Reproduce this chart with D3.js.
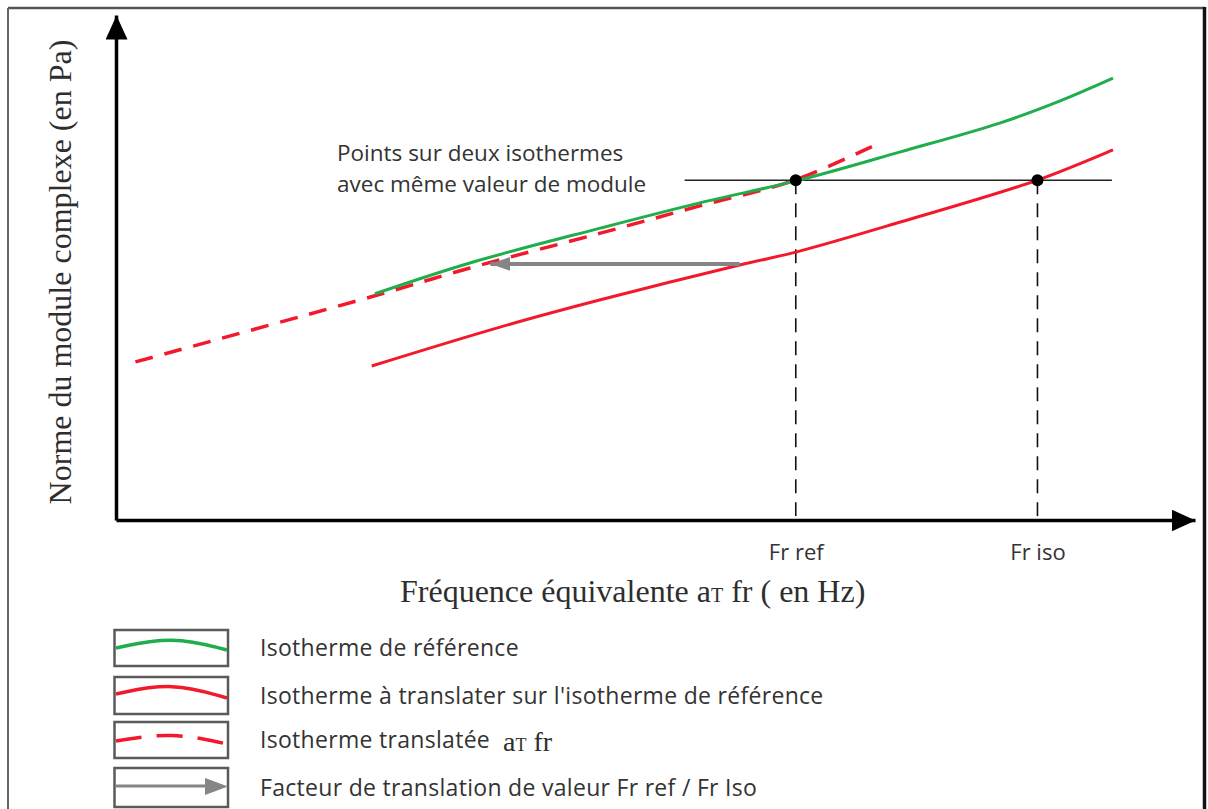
<!DOCTYPE html>
<html>
<head>
<meta charset="utf-8">
<script src="https://cdn.jsdelivr.net/npm/d3@7"></script>
<style>
  html, body { margin: 0; padding: 0; background: #fff; }
  svg { display: block; }
</style>
</head>
<body>
<svg id="chart" width="1208" height="809"></svg>
<script>
// ---------- data (abstract units: x = log equivalent frequency, y = modulus) ----------
const referenceIsotherm = [[24.0,44.8],[32.8,50.9],[44.9,57.8],[54.1,62.8],[63.3,67.3],[72.7,72.9],[81.9,78.6],[87.5,83.0],[92.4,87.5]];
const isothermToShift   = [[23.7,30.5],[35.6,38.2],[44.9,43.6],[57.8,50.5],[63.1,53.1],[72.7,59.0],[85.4,67.3],[92.4,73.3]];
const shiftedIsotherm   = [[1.8,31.3],[24.0,44.4],[32.8,49.9],[44.9,56.8],[54.1,62.2],[62.9,67.3],[70.8,74.7]];
const shiftArrow        = [[57.8,50.7],[34.7,50.7]];
const sameModulusLine   = [[52.7,67.3],[92.3,67.3]];
const matchPoints       = [[63.0,67.3],[85.4,67.3]];
const tickValues        = [63.0, 85.4];
const tickLabels        = ["Fr ref", "Fr iso"];
const legendLabels      = [
  "Isotherme de référence",
  "Isotherme à translater sur l'isotherme de référence",
  "Isotherme translatée",
  "Facteur de translation de valeur Fr ref / Fr Iso"
];

// ---------- setup ----------
const svg = d3.select("#chart");
const GREEN = "#1fae4b", RED = "#f3192d", GRAY = "#858585";
const SANS = "'Open Sans', 'Noto Sans', sans-serif";
const SERIF = "'Liberation Serif', 'DejaVu Serif', serif";
const TXT = "#333";

const x = d3.scaleLinear().domain([0, 100]).range([116, 1195]);
const y = d3.scaleLinear().domain([0, 100]).range([520, 15]);

const defs = svg.append("defs");
defs.append("marker").attr("id", "axisArrow")
  .attr("viewBox", "0 0 24 22").attr("refX", 24).attr("refY", 11)
  .attr("markerWidth", 24).attr("markerHeight", 22)
  .attr("markerUnits", "userSpaceOnUse").attr("orient", "auto")
  .append("path").attr("d", "M0,0L24,11L0,22Z").attr("fill", "#000");
defs.append("marker").attr("id", "grayArrow")
  .attr("viewBox", "0 0 20 14").attr("refX", 20).attr("refY", 7)
  .attr("markerWidth", 20).attr("markerHeight", 14)
  .attr("markerUnits", "userSpaceOnUse").attr("orient", "auto")
  .append("path").attr("d", "M0,0L20,7L0,14Z").attr("fill", GRAY);

// ---------- frame ----------
svg.append("line").attr("x1", 8).attr("y1", 8).attr("x2", 1205).attr("y2", 8)
  .attr("stroke", "#555").attr("stroke-width", 2.5);
svg.append("line").attr("x1", 8).attr("y1", 8).attr("x2", 8).attr("y2", 809)
  .attr("stroke", "#666").attr("stroke-width", 2);
svg.append("line").attr("x1", 1204.5).attr("y1", 7).attr("x2", 1204.5).attr("y2", 809)
  .attr("stroke", "#111").attr("stroke-width", 3.5);

// ---------- axes ----------
const xAxis = svg.append("g").attr("transform", `translate(0,${y(0)})`)
  .call(d3.axisBottom(x).tickValues(tickValues).tickSize(0).tickSizeOuter(0).tickPadding(24)
    .tickFormat((d, i) => tickLabels[i]));
xAxis.select(".domain").attr("stroke", "#000").attr("stroke-width", 3.5).attr("marker-end", "url(#axisArrow)");
xAxis.selectAll("text").attr("font-family", SANS).attr("font-size", 22).attr("fill", TXT);

const yAxis = svg.append("g").attr("transform", `translate(${x(0)},0)`)
  .call(d3.axisLeft(y).tickValues([]).tickSizeOuter(0));
yAxis.select(".domain").attr("stroke", "#000").attr("stroke-width", 3.5).attr("marker-end", "url(#axisArrow)");

// axis titles
const xt = svg.append("text").attr("x", 400).attr("y", 602)
  .attr("font-family", SERIF).attr("font-size", 32).attr("fill", "#2e2e2e");
xt.append("tspan").text("Fréquence équivalente a");
xt.append("tspan").attr("font-size", 20).text("T");
xt.append("tspan").text(" fr ( en Hz)");

svg.append("text").attr("transform", "translate(71,272) rotate(-90)")
  .attr("text-anchor", "middle")
  .attr("font-family", SERIF).attr("font-size", 32).attr("fill", "#2e2e2e")
  .text("Norme du module complexe (en Pa)");

// ---------- curves ----------
const line = d3.line().x(d => x(d[0])).y(d => y(d[1])).curve(d3.curveCatmullRom.alpha(0.5));

// vertical dashed drop lines
svg.selectAll(".drop").data(matchPoints).join("line")
  .attr("x1", d => x(d[0])).attr("x2", d => x(d[0]))
  .attr("y1", d => y(d[1])).attr("y2", y(0))
  .attr("stroke", "#111").attr("stroke-width", 1.6).attr("stroke-dasharray", "14,9");

// horizontal same-modulus line
svg.append("path").datum(sameModulusLine).attr("d", d3.line().x(d => x(d[0])).y(d => y(d[1])))
  .attr("fill", "none").attr("stroke", "#222").attr("stroke-width", 1.5);

svg.append("path").datum(isothermToShift).attr("d", line)
  .attr("fill", "none").attr("stroke", RED).attr("stroke-width", 3);

svg.append("path").datum(shiftedIsotherm).attr("d", line)
  .attr("fill", "none").attr("stroke", RED).attr("stroke-width", 3.5).attr("stroke-dasharray", "18,12");

svg.append("path").datum(referenceIsotherm).attr("d", line)
  .attr("fill", "none").attr("stroke", GREEN).attr("stroke-width", 3);

// shift arrow
svg.append("path").datum(shiftArrow).attr("d", d3.line().x(d => x(d[0])).y(d => y(d[1])))
  .attr("fill", "none").attr("stroke", GRAY).attr("stroke-width", 4).attr("marker-end", "url(#grayArrow)");

// match points
svg.selectAll(".pt").data(matchPoints).join("circle")
  .attr("cx", d => x(d[0])).attr("cy", d => y(d[1])).attr("r", 6).attr("fill", "#000");

// annotation
svg.append("text").attr("x", 337).attr("y", 161)
  .attr("font-family", SANS).attr("font-size", 22.5).attr("fill", TXT)
  .text("Points sur deux isothermes");
svg.append("text").attr("x", 337).attr("y", 192)
  .attr("font-family", SANS).attr("font-size", 22.5).attr("fill", TXT)
  .text("avec même valeur de module");

// ---------- legend ----------
const boxes = [630, 677, 722, 768];
const boxH = [36, 37, 36, 39];
const lg = svg.append("g");
boxes.forEach((top, i) => {
  lg.append("rect").attr("x", 114.5).attr("y", top).attr("width", 113.5).attr("height", boxH[i])
    .attr("fill", "#fff").attr("stroke", "#5a5a5a").attr("stroke-width", 2.5);
  lg.append("text").attr("x", 260).attr("y", top + boxH[i] / 2 + 8)
    .attr("font-family", SANS).attr("font-size", 23).attr("letter-spacing", 0.3).attr("fill", TXT)
    .text(legendLabels[i]);
});
const arc = d3.line().curve(d3.curveBasis);
lg.append("path").attr("d", arc([[116, 648], [172, 636], [227, 650]]))
  .attr("fill", "none").attr("stroke", GREEN).attr("stroke-width", 3.5);
lg.append("path").attr("d", arc([[116, 694], [172, 682], [227, 698]]))
  .attr("fill", "none").attr("stroke", RED).attr("stroke-width", 3.5);
lg.append("path").attr("d", arc([[116, 741], [172, 732], [227, 744]]))
  .attr("fill", "none").attr("stroke", RED).attr("stroke-width", 3.5).attr("stroke-dasharray", "26,15");
lg.append("line").attr("x1", 116).attr("x2", 208).attr("y1", 786).attr("y2", 786)
  .attr("stroke", GRAY).attr("stroke-width", 3);
lg.append("path").attr("d", "M205,778L228,786.5L205,795Z").attr("fill", GRAY);

// serif "aT fr" after third legend label
const lt = lg.append("text").attr("x", 503).attr("y", 751)
  .attr("font-family", SERIF).attr("font-size", 28).attr("fill", "#2e2e2e");
lt.append("tspan").text("a");
lt.append("tspan").attr("font-size", 18).text("T");
lt.append("tspan").text(" fr");
</script>
</body>
</html>
